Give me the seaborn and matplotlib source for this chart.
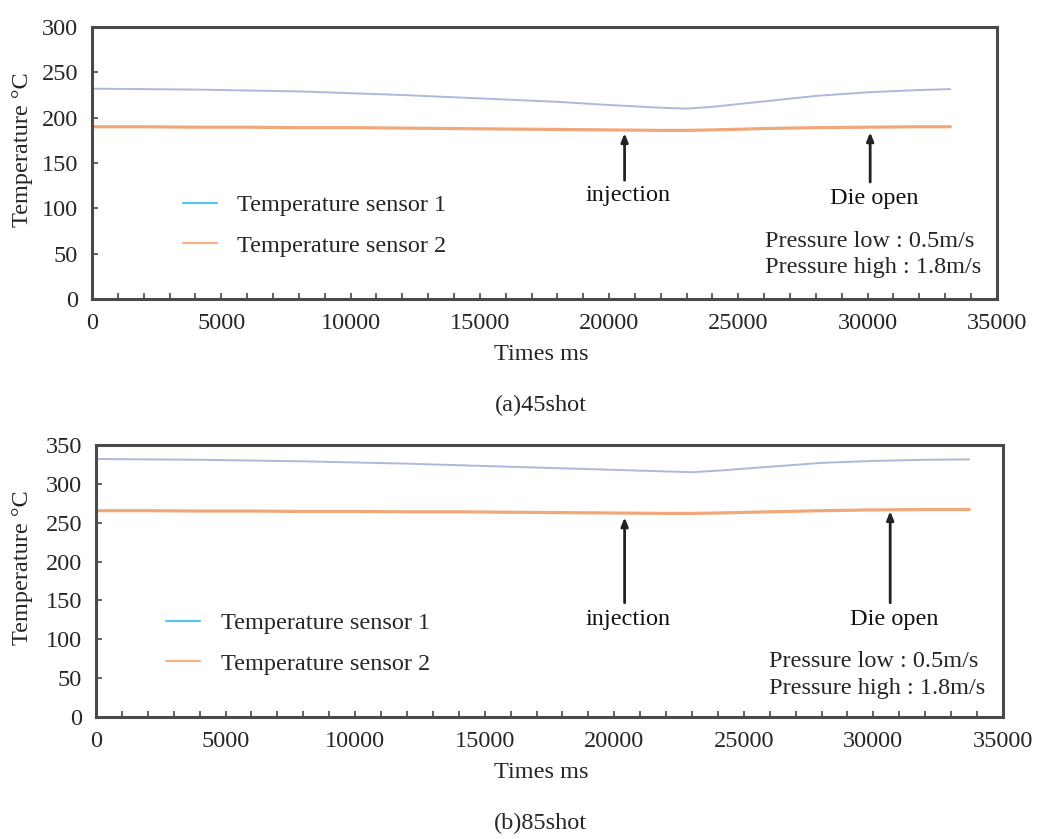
import matplotlib
matplotlib.use("Agg")
import matplotlib.pyplot as plt
from matplotlib.lines import Line2D
from matplotlib.ticker import MultipleLocator
import seaborn as sns
import pandas as pd

sns.set_style("white")
plt.rcParams["font.family"] = ["Liberation Serif", "DejaVu Serif"]

# ---- data: 45th shot ----
time_45 = [0, 2000, 4000, 6000, 8000, 10000, 12000, 14000, 16000, 18000,
           20000, 22000, 23000, 24000, 26000, 28000, 30000, 32000, 33200]
sensor1_45 = [232, 231.5, 231, 230, 229, 227, 225, 222.5, 220, 217.5,
              214, 211, 210, 212, 218, 224, 228, 230.5, 231.5]
sensor2_45 = [190, 190, 189.5, 189.5, 189, 189, 188.5, 188, 187.5, 187,
              186.5, 186, 186, 186.5, 188, 189, 189.5, 190, 190]

# ---- data: 85th shot ----
time_85 = [0, 2000, 4000, 6000, 8000, 10000, 12000, 14000, 16000, 18000,
           20000, 22000, 23000, 24000, 26000, 28000, 30000, 32000, 33700]
sensor1_85 = [332, 331.5, 331, 330, 329, 327.5, 326, 324, 322, 320,
              318, 316, 315, 317, 322, 327, 329.5, 331, 331.5]
sensor2_85 = [265.5, 265.5, 265, 265, 264.5, 264.5, 264, 264, 263.5, 263,
              262.5, 262, 262, 262.5, 264, 265.5, 266.5, 267, 267]

series_names = ["Temperature sensor 1", "Temperature sensor 2"]
x_ticks = [0, 5000, 10000, 15000, 20000, 25000, 30000, 35000]

# event markers: (label, time, arrow tip, arrow tail, text y)
events_45 = [("injection", 20600, 183, 131, 114), ("Die open", 30100, 184, 129, 111)]
events_85 = [("injection", 20400, 257, 147, 125), ("Die open", 30650, 265, 147, 125)]

pressure_lines = ["Pressure low : 0.5m/s", " Pressure high : 1.8m/s"]

line_colors = {series_names[0]: "#a9b0d8", series_names[1]: "#ef9e6c"}
line_widths = {series_names[0]: 1.4, series_names[1]: 2.3}
legend_colors = ["#5cc3ee", "#f6b088"]

FS = 17.5


def long_frame(t, s1, s2):
    return pd.DataFrame({
        "time": list(t) + list(t),
        "temp": list(s1) + list(s2),
        "sensor": [series_names[0]] * len(t) + [series_names[1]] * len(t),
    })


def draw_panel(ax, df, ymax, ystep, events, legend_xy, press_xy, ylabel_xy):
    for name in series_names:
        sub = df[df["sensor"] == name]
        sns.lineplot(data=sub, x="time", y="temp", ax=ax, color=line_colors[name],
                     linewidth=line_widths[name], legend=False, alpha=0.9)
    ax.set_xlim(0, 35000)
    ax.set_ylim(0, ymax)
    ax.set_xticks(x_ticks)
    ax.set_xticklabels([str(v) for v in x_ticks])
    ax.xaxis.set_minor_locator(MultipleLocator(1000))
    ax.yaxis.set_major_locator(MultipleLocator(ystep))
    ax.tick_params(axis="both", which="both", direction="in", length=4,
                   width=1.3, color="#555555", labelsize=FS, pad=10,
                   bottom=True, left=True, top=False, right=False)
    ax.tick_params(axis="y", which="minor", length=0)
    for sp in ax.spines.values():
        sp.set_visible(True)
        sp.set_color("#4a4a4a")
        sp.set_linewidth(2.2)
    ax.set_xlabel("")
    ax.set_ylabel("Temperature °C", fontsize=FS)
    ax.yaxis.set_label_coords(*ylabel_xy)

    for label, t, tip, tail, ty in events:
        ax.annotate("", xy=(t, tip), xytext=(t, tail),
                    arrowprops=dict(arrowstyle="-|>,head_length=0.5,head_width=0.2",
                                    color="#222222", lw=2.0, shrinkA=0, shrinkB=0))
        ax.text(t + 150, ty, label, ha="center", va="center", fontsize=FS, color="#111111")

    handles = [Line2D([0], [0], color=c, lw=1.6) for c in legend_colors]
    ax.legend(handles, series_names, loc="center left", bbox_to_anchor=legend_xy,
              frameon=False, fontsize=FS, handlelength=1.4, handletextpad=0.85,
              labelspacing=0.75)

    ax.text(press_xy[0], press_xy[1], "\n".join(pressure_lines), ha="center",
            va="center", fontsize=FS, linespacing=1.35, transform=ax.transAxes)


fig = plt.figure(figsize=(10.46, 8.39), dpi=100)
ax1 = fig.add_axes([0.088, 0.6436, 0.865, 0.3242])
ax2 = fig.add_axes([0.0918, 0.1454, 0.867, 0.3242])

draw_panel(ax1, long_frame(time_45, sensor1_45, sensor2_45), 300, 50, events_45,
           (0.076, 0.27), (0.86, 0.163), (-0.065, 0.55))
draw_panel(ax2, long_frame(time_85, sensor1_85, sensor2_85), 350, 50, events_85,
           (0.053, 0.27), (0.858, 0.155), (-0.07, 0.55))

fig.text(0.517, 0.578, "Times ms", ha="center", va="center", fontsize=FS)
fig.text(0.517, 0.517, "(a)45shot", ha="center", va="center", fontsize=FS)
fig.text(0.517, 0.0787, "Times ms", ha="center", va="center", fontsize=FS)
fig.text(0.517, 0.019, "(b)85shot", ha="center", va="center", fontsize=FS)

fig.savefig("out.png", dpi=100, facecolor="white")
